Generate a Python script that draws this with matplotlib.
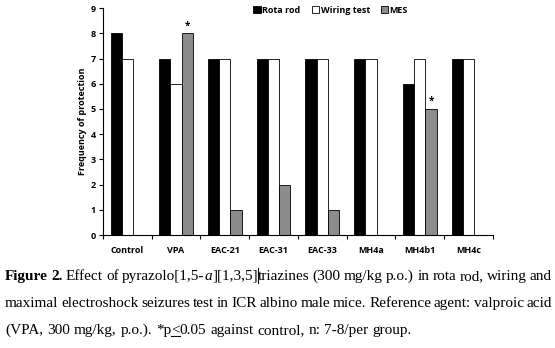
import numpy as np
import matplotlib
matplotlib.use('Agg')
import matplotlib.pyplot as plt
from matplotlib.lines import Line2D

# data
groups = ['Control', 'VPA', 'EAC-21', 'EAC-31', 'EAC-33', 'MH4a', 'MH4b1', 'MH4c']
rota_rod = [8, 7, 7, 7, 7, 7, 6, 7]
wiring_test = [7, 6, 7, 7, 7, 7, 7, 7]
mes = [0, 8, 1, 2, 1, 0, 5, 0]
starred = ['VPA', 'MH4b1']   # * above MES bar

series_names = ['Rota rod', 'Wiring test', 'MES']
series_colors = ['black', 'white', '#8c8c8c']

tick_font = 'Open Sans'

fig = plt.figure(figsize=(5.55, 3.48), dpi=100)
ax = fig.add_axes([0.1856, 0.3247, 0.7024, 0.652])

x = np.arange(len(groups))
w = 0.23
for i, (vals, name, col) in enumerate(zip([rota_rod, wiring_test, mes], series_names, series_colors)):
    ax.bar(x + (i - 1) * w, vals, w, color=col, edgecolor='black', linewidth=0.6, label=name)

for g in starred:
    k = groups.index(g)
    ax.text(x[k] + w, mes[k] + 0.08, '*', ha='center', va='bottom', fontsize=7,
            fontweight='bold', family=tick_font)

ax.set_xlim(-0.5, len(groups) - 0.5)
ax.set_ylim(0, 9)
ax.set_yticks(range(10))
ax.set_yticklabels([str(v) for v in range(10)], fontsize=6.5, fontweight='bold', family=tick_font)
ax.set_xticks(np.arange(-0.5, len(groups)), minor=False)
ax.set_xticklabels([])
ax.set_xticks(x, minor=True)
ax.set_xticklabels(groups, minor=True, fontsize=6.5, fontweight='bold', family=tick_font)
ax.tick_params(axis='x', which='major', direction='out', length=3, width=0.8)
ax.tick_params(axis='x', which='minor', length=0, pad=8)
ax.tick_params(axis='y', direction='out', length=3, width=0.8, pad=2)
for s in ['top', 'right']:
    ax.spines[s].set_visible(False)
for s in ['left', 'bottom']:
    ax.spines[s].set_linewidth(0.8)
ax.set_ylabel('Frequency of protection', fontsize=6.5, fontweight='bold', family=tick_font, labelpad=3)

leg = ax.legend(loc='upper left', bbox_to_anchor=(0.365, 1.045), ncol=3, frameon=False,
                prop={'family': tick_font, 'weight': 'bold', 'size': 6.5},
                handlelength=0.8, handleheight=0.8, handletextpad=0.2, columnspacing=1.2)

# caption, justified like the source page
bold = dict(fontweight='bold')
norm = dict()
ital = dict(style='italic')
caption = [
    [[('Figure', bold)], [('2.', bold)], [('Effect', norm)], [('of', norm)],
     [('pyrazolo[1,5-', norm), ('a', ital), ('][1,3,5]', norm), ('|', 'cursor'), ('triazines', norm)],
     [('(300', norm)], [('mg/kg', norm)], [('p.o.)', norm)], [('in', norm)], [('rota', norm)],
     [('rod,', norm)], [('wiring', norm)], [('and', norm)]],
    [[(t, norm)] for t in 'maximal electroshock seizures test in ICR albino male mice. Reference agent: valproic acid'.split()],
    [[('(VPA,', norm)], [('300', norm)], [('mg/kg,', norm)], [('p.o.).', norm)],
     [('*p', norm), ('<', 'underline'), ('0.05', norm)],
     [('against', norm)], [('control,', norm)], [('n:', norm)], [('7-8/per', norm)], [('group.', norm)]],
]
justify = [True, True, False]
baselines = [280, 307, 334]
x0, x1 = 5, 552
fs = 11
serif = 'Liberation Serif'
W, H = fig.get_size_inches() * fig.dpi
renderer = fig.canvas.get_renderer()


def ink(txt, style):
    t = fig.text(0, 0, txt, fontsize=fs, family=serif, **style)
    bb = t.get_window_extent(renderer)
    t.remove()
    return bb.width


def seg_width(txt, style):
    # advance width: agg reports ink extents, so wrap the text between two I's
    if style == 'cursor':
        return 0.0
    if style == 'underline':
        style = norm
    return ink('I' + txt + 'I', style) - ink('II', style)


space = seg_width(' ', norm)
for words, just, yb in zip(caption, justify, baselines):
    widths = [sum(seg_width(t, s) for t, s in wd) for wd in words]
    gap = (x1 - x0 - sum(widths)) / (len(words) - 1) if just else space
    xp = x0
    for wd, ww in zip(words, widths):
        xs = xp
        for t, s in wd:
            if s == 'cursor':
                fig.add_artist(Line2D([xs / W, xs / W], [1 - (yb + 3) / H, 1 - (yb - 12) / H],
                                      color='black', linewidth=0.8))
                continue
            sw = seg_width(t, s)
            if s == 'underline':
                fig.add_artist(Line2D([xs / W, (xs + sw) / W], [1 - (yb + 2) / H] * 2,
                                      color='black', linewidth=0.8))
                s = norm
            fig.text(xs / W, 1 - yb / H, t, fontsize=fs, family=serif,
                     va='baseline', ha='left', **s)
            xs += sw
        xp += ww + gap

fig.savefig('out.png', dpi=100)
